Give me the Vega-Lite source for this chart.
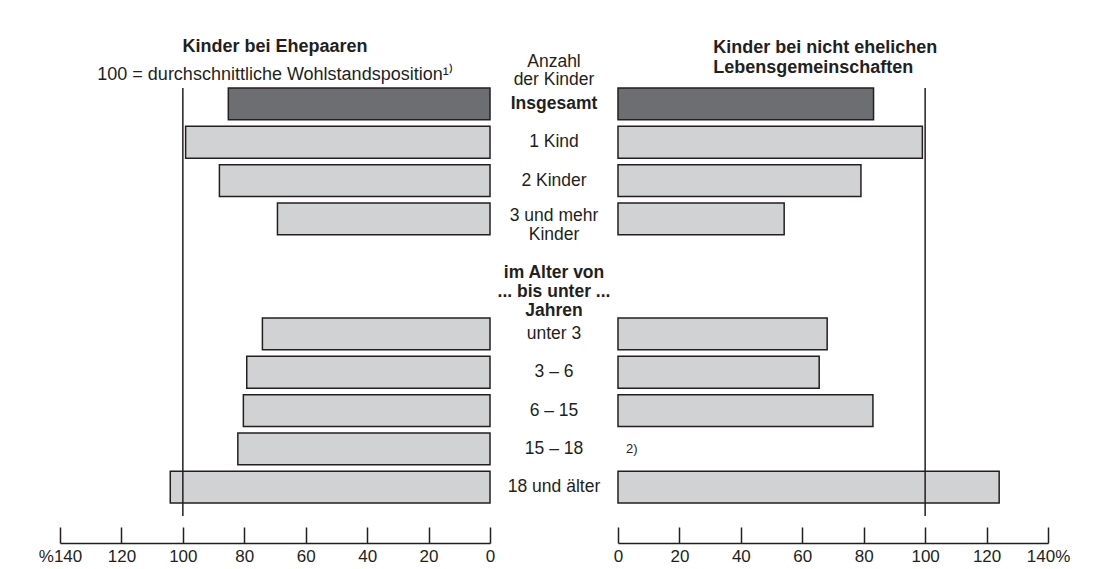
{
  "$schema": "https://vega.github.io/schema/vega-lite/v6.json",
  "background": "white",
  "padding": {"left": 38, "top": 38, "right": 5, "bottom": 5},
  "bounds": "flush",
  "spacing": 0,
  "config": {
    "font": "Liberation Sans",
    "view": {"stroke": null},
    "axis": {
      "domainColor": "#231f20",
      "domainWidth": 1.5,
      "tickColor": "#231f20",
      "tickWidth": 1.5,
      "tickSize": -16,
      "labelFontSize": 17,
      "labelColor": "#231f20",
      "labelFont": "Liberation Sans",
      "labelPadding": 21,
      "labelFlush": false,
      "labelOverlap": false,
      "grid": false,
      "offset": 27,
      "title": null
    },
    "title": {
      "color": "#231f20",
      "font": "Liberation Sans",
      "fontSize": 18,
      "fontWeight": "bold",
      "subtitleFont": "Liberation Sans",
      "subtitleFontSize": 18,
      "subtitleColor": "#231f20",
      "lineHeight": 20
    }
  },
  "datasets": {
    "werte": [
      {"kategorie": "Insgesamt", "ehepaare": 85.2, "nichtehelich": 83.2},
      {"kategorie": "1 Kind", "ehepaare": 99.1, "nichtehelich": 99.1},
      {"kategorie": "2 Kinder", "ehepaare": 88.1, "nichtehelich": 79.1},
      {"kategorie": "3 und mehr Kinder", "ehepaare": 69.2, "nichtehelich": 54.1},
      {"kategorie": "unter 3", "ehepaare": 74.1, "nichtehelich": 68.1},
      {"kategorie": "3 – 6", "ehepaare": 79.2, "nichtehelich": 65.5},
      {"kategorie": "6 – 15", "ehepaare": 80.3, "nichtehelich": 83.0},
      {"kategorie": "15 – 18", "ehepaare": 82.1, "nichtehelich": null},
      {"kategorie": "18 und älter", "ehepaare": 104.1, "nichtehelich": 124.1}
    ],
    "beschriftung": [
      {"kategorie": "Insgesamt", "text": "Insgesamt"},
      {"kategorie": "1 Kind", "text": "1 Kind"},
      {"kategorie": "2 Kinder", "text": "2 Kinder"},
      {"kategorie": "3 und mehr Kinder", "text": "3 und mehr\nKinder"},
      {"kategorie": "im Alter von", "text": "im Alter von\n... bis unter ...\nJahren"},
      {"kategorie": "unter 3", "text": "unter 3"},
      {"kategorie": "3 – 6", "text": "3 – 6"},
      {"kategorie": "6 – 15", "text": "6 – 15"},
      {"kategorie": "15 – 18", "text": "15 – 18"},
      {"kategorie": "18 und älter", "text": "18 und älter"}
    ],
    "fussnote": [
      {"kategorie": "15 – 18", "hinweis": "2)"}
    ]
  },
  "hconcat": [
    {
      "width": 430,
      "height": 428,
      "title": {
        "text": "Kinder bei Ehepaaren",
        "subtitle": "100 = durchschnittliche Wohlstandsposition¹⁾",
        "anchor": "middle",
        "offset": 3,
        "subtitlePadding": 10
      },
      "layer": [
        {
          "data": {"name": "werte"},
          "mark": {"type": "bar", "stroke": "#231f20", "strokeWidth": 1.5},
          "encoding": {
            "y": {
              "field": "kategorie",
              "type": "nominal",
              "scale": {
                "type": "band",
                "domain": ["Insgesamt", "1 Kind", "2 Kinder", "3 und mehr Kinder", "leer", "im Alter von", "unter 3", "3 – 6", "6 – 15", "15 – 18", "18 und älter"],
                "paddingInner": 0.17,
                "paddingOuter": 0.168,
                "align": 0
              },
              "axis": null
            },
            "x": {
              "field": "ehepaare",
              "type": "quantitative",
              "scale": {"domain": [0, 140], "reverse": true},
              "axis": {
                "values": [0, 20, 40, 60, 80, 100, 120, 140],
                "labelExpr": "datum.value == 140 ? '%140' : datum.label"
              }
            },
            "fill": {
              "condition": {"test": "datum.kategorie === 'Insgesamt'", "value": "#6d6e71"},
              "value": "#d1d2d4"
            }
          }
        },
        {
          "data": {"values": [{}]},
          "mark": {"type": "rule", "color": "#231f20", "strokeWidth": 1.5},
          "encoding": {"x": {"datum": 100}}
        }
      ]
    },
    {
      "width": 128,
      "height": 428,
      "title": {
        "text": ["Anzahl", "der Kinder"],
        "fontWeight": "normal",
        "fontSize": 17.5,
        "lineHeight": 18,
        "anchor": "middle",
        "offset": 0
      },
      "data": {"name": "beschriftung"},
      "encoding": {
        "y": {
          "field": "kategorie",
          "type": "nominal",
          "bandPosition": 0.5,
          "scale": {
            "type": "band",
            "domain": ["Insgesamt", "1 Kind", "2 Kinder", "3 und mehr Kinder", "leer", "im Alter von", "unter 3", "3 – 6", "6 – 15", "15 – 18", "18 und älter"],
            "paddingInner": 0.17,
            "paddingOuter": 0.168,
            "align": 0
          },
          "axis": null
        },
        "text": {"field": "text"}
      },
      "layer": [
        {
          "transform": [{"filter": "datum.kategorie === 'Insgesamt'"}],
          "mark": {"type": "text", "fontSize": 17.5, "fontWeight": "bold", "color": "#231f20", "baseline": "middle"}
        },
        {
          "transform": [{"filter": "datum.kategorie !== 'Insgesamt' && datum.kategorie !== '3 und mehr Kinder' && datum.kategorie !== 'im Alter von'"}],
          "mark": {"type": "text", "fontSize": 17.5, "color": "#231f20", "baseline": "middle"}
        },
        {
          "transform": [{"filter": "datum.kategorie === '3 und mehr Kinder'"}],
          "mark": {"type": "text", "fontSize": 17.5, "color": "#231f20", "baseline": "middle", "lineBreak": "\n", "lineHeight": 19, "dy": -3}
        },
        {
          "transform": [{"filter": "datum.kategorie === 'im Alter von'"}],
          "mark": {"type": "text", "fontSize": 17.5, "fontWeight": "bold", "color": "#231f20", "baseline": "middle", "lineBreak": "\n", "lineHeight": 19, "dy": -23}
        }
      ]
    },
    {
      "width": 430,
      "height": 428,
      "title": {
        "text": ["Kinder bei nicht ehelichen", "Lebensgemeinschaften"],
        "anchor": "start",
        "dx": 100,
        "offset": 10
      },
      "layer": [
        {
          "data": {"name": "werte"},
          "mark": {"type": "bar", "stroke": "#231f20", "strokeWidth": 1.5},
          "encoding": {
            "y": {
              "field": "kategorie",
              "type": "nominal",
              "scale": {
                "type": "band",
                "domain": ["Insgesamt", "1 Kind", "2 Kinder", "3 und mehr Kinder", "leer", "im Alter von", "unter 3", "3 – 6", "6 – 15", "15 – 18", "18 und älter"],
                "paddingInner": 0.17,
                "paddingOuter": 0.168,
                "align": 0
              },
              "axis": null
            },
            "x": {
              "field": "nichtehelich",
              "type": "quantitative",
              "scale": {"domain": [0, 140]},
              "axis": {
                "values": [0, 20, 40, 60, 80, 100, 120, 140],
                "labelExpr": "datum.value == 140 ? '140%' : datum.label"
              }
            },
            "fill": {
              "condition": {"test": "datum.kategorie === 'Insgesamt'", "value": "#6d6e71"},
              "value": "#d1d2d4"
            }
          }
        },
        {
          "data": {"values": [{}]},
          "mark": {"type": "rule", "color": "#231f20", "strokeWidth": 1.5},
          "encoding": {"x": {"datum": 100}}
        },
        {
          "data": {"name": "fussnote"},
          "mark": {"type": "text", "fontSize": 13, "align": "left", "baseline": "middle", "dx": 8, "color": "#231f20"},
          "encoding": {
            "y": {"field": "kategorie", "type": "nominal", "bandPosition": 0.5, "scale": {"type": "band", "domain": ["Insgesamt", "1 Kind", "2 Kinder", "3 und mehr Kinder", "leer", "im Alter von", "unter 3", "3 – 6", "6 – 15", "15 – 18", "18 und älter"], "paddingInner": 0.17, "paddingOuter": 0.168, "align": 0}, "axis": null},
            "x": {"datum": 0},
            "text": {"field": "hinweis"}
          }
        }
      ]
    }
  ]
}
